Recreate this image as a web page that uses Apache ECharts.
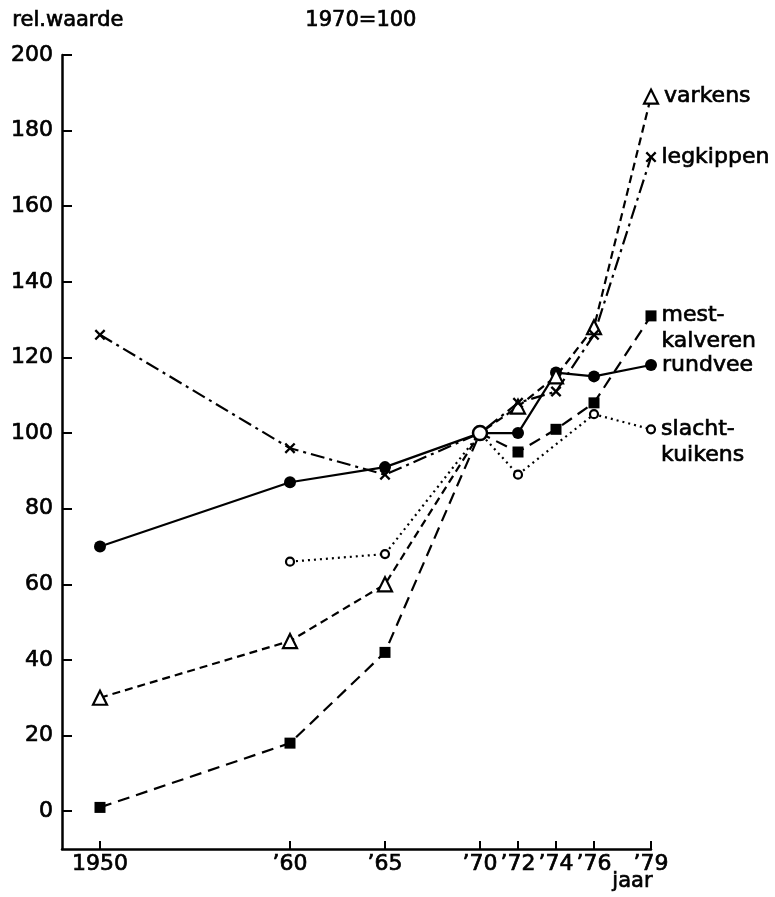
<!DOCTYPE html>
<html>

<head>
    <meta charset="utf-8">
    <script src="https://cdn.jsdelivr.net/npm/echarts@6/dist/echarts.min.js"></script>
    <style>
        body { margin: 0; background: #fff; }
    </style>
</head>

<body>
    <div id="main" style="width: 775px;height:897px;"></div>
    <script type="text/javascript">
        // jaren en tick-labels
        var years = [1950, 1960, 1965, 1970, 1972, 1974, 1976, 1979];
        var yearLabels = ['1950', '’60', '’65', '’70', '’72', '’74', '’76', '’79'];
        var yTicks = [0, 20, 40, 60, 80, 100, 120, 140, 160, 180, 200];

        // relatieve waarde, 1970 = 100
        var rundvee = [70, 87, 91, 100, 100, 116, 115, 118];
        var mestkalveren = [1, 18, 42, 100, 95, 101, 108, 131];
        var varkens = [30, 45, 60, 100, 107, 115, 128, 189];
        var legkippen = [126, 96, 89, 100, 108, 111, 126, 173];
        var slachtkuikens = [null, 66, 68, 100, 89, null, 105, 101];
        var basis = [[1970, 100]];

        var font = 'DejaVu Sans';
        var cross = 'path://M0,1.5L1.5,0L5,3.5L8.5,0L10,1.5L6.5,5L10,8.5L8.5,10L5,6.5L1.5,10L0,8.5L3.5,5Z';
        // tekst iets dikker, zoals in het origineel
        var ink = { color: '#000', textBorderColor: '#000', textBorderWidth: 0.7 };

        function makeData(values) {
            var out = [];
            for (var i = 0; i < years.length; i++) {
                if (values[i] === null) continue;
                var item = { value: [years[i], values[i]] };
                if (years[i] === 1970) item.symbol = 'none';
                out.push(item);
            }
            return out;
        }

        function makeSeries(name, label, values, symbol, size, dash, empty, offset) {
            var data = makeData(values);
            data[data.length - 1].label = Object.assign({
                show: true,
                position: 'right',
                distance: 5,
                offset: offset || [0, 0],
                formatter: label,
                fontFamily: font,
                fontSize: 22,
                lineHeight: 26
            }, ink);
            return {
                name: name,
                type: 'line',
                data: data,
                symbol: symbol,
                symbolSize: size,
                connectNulls: true,
                z: 3,
                lineStyle: { color: '#000', width: 2.2, type: dash },
                itemStyle: empty
                    ? { color: '#fff', borderColor: '#000', borderWidth: 2.2 }
                    : { color: '#000', borderColor: '#000', borderWidth: 0 }
            };
        }

        function txt(s, left, top) {
            return {
                type: 'text', left: left, top: top,
                style: { text: s, font: '21px "DejaVu Sans"', fill: '#000', stroke: '#000', lineWidth: 0.7 }
            };
        }

        var myChart = echarts.init(document.getElementById('main'));

        myChart.setOption({
            animation: false,
            backgroundColor: '#fff',
            textStyle: { fontFamily: font },
            grid: { left: 62, right: 124, top: 55, bottom: 48 },
            graphic: [
                txt('rel.waarde', 12, 10),
                txt('1970=100', 305, 10),
                txt('jaar', 612, 871)
            ],
            xAxis: {
                type: 'value',
                min: 1948,
                max: 1979,
                axisLine: { onZero: false, lineStyle: { color: '#000', width: 2.5 } },
                axisTick: { inside: true, length: 8, customValues: years, lineStyle: { color: '#000', width: 2 } },
                axisLabel: Object.assign({
                    customValues: years,
                    fontSize: 22,
                    margin: 4,
                    formatter: function (v) { return yearLabels[years.indexOf(v)]; }
                }, ink),
                splitLine: { show: false }
            },
            yAxis: {
                type: 'value',
                min: -10,
                max: 200,
                axisLine: { show: true, onZero: false, lineStyle: { color: '#000', width: 2.5 } },
                axisTick: { show: true, inside: true, length: 10, customValues: yTicks, lineStyle: { color: '#000', width: 2 } },
                axisLabel: Object.assign({ customValues: yTicks, fontSize: 22, margin: 9 }, ink),
                splitLine: { show: false }
            },
            series: [
                makeSeries('rundvee', 'rundvee', rundvee, 'circle', 12, 'solid', false),
                makeSeries('mestkalveren', 'mest-\nkalveren', mestkalveren, 'rect', 11, [12, 7], false, [0, 12]),
                makeSeries('varkens', 'varkens', varkens, 'triangle', 14, [8, 5], true),
                makeSeries('legkippen', 'legkippen', legkippen, cross, 11, [14, 5, 3, 5], false),
                makeSeries('slachtkuikens', 'slacht-\nkuikens', slachtkuikens, 'circle', 8, [2, 4], true, [0, 13]),
                {
                    name: '1970',
                    type: 'scatter',
                    data: basis,
                    symbol: 'circle',
                    symbolSize: 14,
                    z: 5,
                    itemStyle: { color: '#fff', opacity: 1, borderColor: '#000', borderWidth: 2.5 }
                }
            ]
        });
    </script>
</body>

</html>
